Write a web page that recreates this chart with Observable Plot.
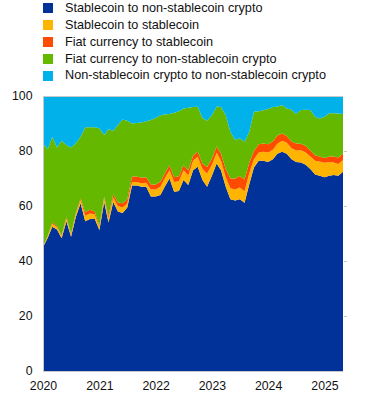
<!DOCTYPE html>
<html><head><meta charset="utf-8">
<script src="https://cdn.jsdelivr.net/npm/d3@7"></script>
<script src="https://cdn.jsdelivr.net/npm/@observablehq/plot@0.6"></script>
<style>
body{margin:0;background:#fff;font-family:"Liberation Sans",Arial,sans-serif;}
#legend{position:relative;height:88px;width:372px;}
.item{position:absolute;left:43px;height:13px;font-size:12.7px;line-height:13px;color:#111;white-space:nowrap;}
.sw{position:absolute;left:0;top:1.5px;width:10px;height:10px;}
.lab{position:absolute;left:22px;top:0;}
#chart svg{display:block;}
</style></head>
<body>
<div id="legend"></div>
<div id="chart"></div>
<script>
const seriesNames = [
  "Stablecoin to non-stablecoin crypto",
  "Stablecoin to stablecoin",
  "Fiat currency to stablecoin",
  "Fiat currency to non-stablecoin crypto",
  "Non-stablecoin crypto to non-stablecoin crypto"
];
const seriesColors = ["#003299", "#ffb400", "#ff4b00", "#65b800", "#00b1ea"];
const yTicks = [0, 20, 40, 60, 80, 100];
const xTickYears = [2020, 2021, 2022, 2023, 2024, 2025];

// monthly, Jan 2020 - May 2025 (percent shares)
const stableToNonStable = [
  45, 48.5, 52.5, 51.5, 48.3, 54.5, 48.8, 56, 61, 54.5, 55.3, 55.5,
  51.3, 61.5, 54, 61.5, 58, 57.5, 59.5, 67.5, 67.5, 67, 67, 63.5,
  63.5, 64, 67, 70, 65.2, 65.5, 69.5, 67.6, 73, 74.3, 69.5, 67,
  71, 75.5, 73, 67, 62.5, 62, 62.5, 61.2, 68, 74, 76.5, 76.5,
  76, 77, 79, 79.7, 79, 77, 76, 75.8, 75, 73.5, 71.5, 71,
  70.5, 71, 71.3, 71, 72.5
];
const stableToStable = [
  0.3, 0.5, 1, 0.8, 0.8, 1, 0.8, 1, 1.2, 2, 2, 1.5,
  1, 1.3, 1.5, 1.5, 2, 2, 1.5, 1.2, 1.2, 1.3, 1.5, 2.5,
  2.5, 3, 3, 3, 3.5, 3.5, 3.5, 3.5, 3.5, 3.6, 4, 4.8,
  4, 3.9, 3.5, 3.5, 4, 4, 4.2, 4.2, 4, 3, 3, 3.2,
  3.5, 3.5, 3.6, 4, 4, 4, 4.2, 4.5, 4.5, 4.5, 5, 5.2,
  5.2, 5, 4.5, 4.3, 4.2
];
const fiatToStable = [
  0.1, 0.2, 0.5, 0.3, 0.3, 0.5, 0.3, 0.5, 0.5, 1.2, 1.3, 1.0,
  0.5, 0.6, 1, 1.2, 1.3, 1.5, 1.5, 2, 2, 2, 2, 1.8,
  1.8, 1.8, 1.8, 1.8, 1.8, 1.8, 1.8, 1.8, 1.8, 1.8, 2, 2.4,
  2.2, 2.2, 2.5, 3, 3.5, 4, 4.2, 4.2, 3.8, 3, 3, 3,
  3, 3, 3, 2.7, 2.5, 2.5, 2.5, 2.3, 2.3, 2.2, 2, 1.8,
  1.8, 2, 2.2, 2.3, 2.4
];
const fiatToNonStable = [
  37.4, 31.4, 31.2, 28.7, 34.3, 26.2, 31.4, 25.3, 22.5, 30.9, 30, 30.6,
  35.5, 22.4, 31.4, 23.2, 28.2, 30.5, 28.5, 19.3, 19.5, 20.1, 20.3, 23.5,
  24.2, 24.2, 21.5, 18.7, 23.4, 23.7, 20.7, 22.8, 17.7, 16.4, 16.5, 16.8,
  15.8, 14.6, 17, 19.5, 17, 14, 13.7, 13.8, 11.2, 14.3, 12, 12.1,
  12.8, 12.5, 10.5, 10.3, 10, 11.5, 10.8, 12.3, 13.2, 14.7, 14, 13.8,
  15, 15.7, 15.7, 16, 14.4
];
const nonStableToNonStable = [
  17.2, 19.4, 14.8, 18.7, 16.3, 17.8, 18.7, 17.2, 14.8, 11.4, 11.4, 11.4,
  11.7, 14.2, 12.1, 12.6, 10.5, 8.5, 9, 10, 9.8, 9.6, 9.2, 8.7,
  8, 7, 6.7, 6.5, 6.1, 5.5, 4.5, 4.3, 4, 3.9, 8, 9,
  7, 3.8, 4, 7, 13, 16, 15.4, 16.6, 13, 5.7, 5.5, 5.2,
  4.7, 4, 3.9, 3.3, 4.5, 5, 6.5, 5.1, 5, 5.1, 7.5, 8.2,
  7.5, 6.3, 6.3, 6.4, 6.5
];

const seriesValues = [stableToNonStable, stableToStable, fiatToStable, fiatToNonStable, nonStableToNonStable];
const months = d3.utcMonth.range(new Date(Date.UTC(2020, 0, 1)), new Date(Date.UTC(2025, 5, 1)));

const data = [];
seriesNames.forEach((name, si) => {
  months.forEach((date, i) => data.push({date, series: name, value: seriesValues[si][i]}));
});

// Legend
const legend = document.getElementById("legend");
seriesNames.forEach((name, i) => {
  const it = document.createElement("div");
  it.className = "item";
  it.style.top = (1.8 + i * 16.9) + "px";
  it.innerHTML = `<span class="sw" style="background:${seriesColors[i]}"></span><span class="lab">${name}</span>`;
  legend.appendChild(it);
});

const x0 = months[0], x1 = months[months.length - 1];
const chart = Plot.plot({
  width: 372,
  height: 311,
  marginTop: 8,
  marginBottom: 28,
  marginLeft: 43,
  marginRight: 29,
  style: {fontFamily: '"Liberation Sans", Arial, sans-serif', fontSize: "12.3px", color: "#111", background: "#fff"},
  x: {type: "utc", domain: [x0, x1]},
  y: {domain: [0, 100]},
  color: {domain: seriesNames, range: seriesColors},
  marks: [
    Plot.areaY(data, {x: "date", y: "value", fill: "series", order: seriesNames, curve: "linear"}),
    Plot.ruleY([0, 100], {stroke: "#c8c8c8", strokeWidth: 1}),
    Plot.ruleX([x0], {stroke: "#c8c8c8", strokeWidth: 1}),
    Plot.axisY({ticks: yTicks, tickSize: 0, tickPadding: 11, label: null, fill: "#111"}),
    Plot.axisY({anchor: "right", ticks: yTicks.filter(d => d > 0 && d < 100), tickSize: 3, stroke: "#c8c8c8", tickFormat: () => "", label: null}),
    Plot.axisX({ticks: xTickYears.map(y => new Date(Date.UTC(y, 0, 1))), tickFormat: d3.utcFormat("%Y"), tickSize: 0, tickPadding: 10, label: null, fill: "#111"})
  ]
});
document.getElementById("chart").appendChild(chart);
</script>
</body></html>
